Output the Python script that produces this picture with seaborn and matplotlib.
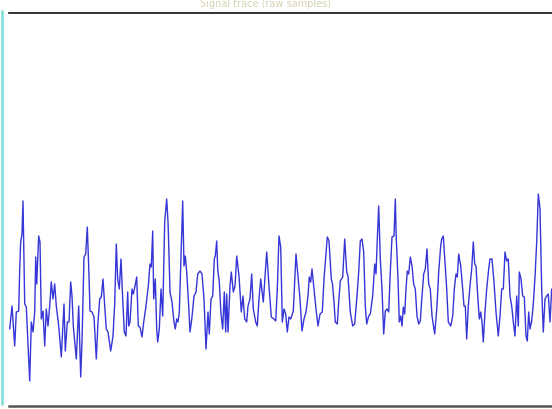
import matplotlib
matplotlib.use("Agg")
import matplotlib.pyplot as plt
from matplotlib.lines import Line2D
import seaborn as sns
import pandas as pd

# sample times and amplitudes
t = [9.7, 12, 14.7, 16.3, 18.7, 19.7, 20.7, 22, 23, 24.7, 26.3, 29.7, 31.3, 33, 34.7,
     35.7, 36.7, 38.7, 40, 41.3, 43, 44.7, 46.3, 48, 49.7, 51.3, 53, 54.7, 56.3, 58.7,
     61.3, 64, 65.3, 67.3, 69, 70.7, 72, 73.3, 76.3, 78.7, 80.7, 82, 84, 85.7, 87.3,
     88.7, 90, 92, 94, 96.3, 98, 99.7, 101.3, 103, 104.7, 106.3, 108, 110.7, 113, 114.7,
     116.3, 117.7, 119.3, 121, 122.7, 124.3, 126, 127.7, 128.7, 130, 132, 133.3, 135,
     136.7, 138.3, 140, 142, 143.7, 146, 148.3, 150, 151.3, 152.7, 153.7, 155.3, 156.7,
     157.7, 159.3, 161, 162.7, 164.7, 166.7, 168, 168.7, 170, 172, 174, 175.3, 176.7,
     178, 179.3, 181, 182.7, 184, 185.3, 186.7, 188.7, 190, 192, 194, 196, 197.7, 200,
     202, 204, 206, 208, 209.3, 211, 212.7, 214.3, 215.3, 216.7, 217.7, 219.3, 221,
     222.7, 224.3, 225.7, 226.7, 228, 230, 231.3, 233.3, 235, 236.7, 239, 241.3, 243,
     244.7, 246.7, 248, 250, 251.7, 253.3, 255.7, 257.3, 259, 260.7, 263.3, 266.7, 269,
     271.3, 274, 275.7, 277.3, 279, 280.7, 282.3, 284, 285.7, 287.3, 289, 290.7, 293.3,
     296, 298, 300, 302, 304, 306, 308, 309.3, 310.7, 312, 314, 316, 318, 320, 322.3,
     324, 327.3, 329, 331.3, 332.5, 334, 335.3, 337.3, 338.7, 340.3, 342.7, 344.7,
     346.7, 348, 350.3, 352.7, 354.7, 357, 358.7, 360.3, 362, 363.7, 365.3, 366.7,
     368.7, 370.3, 372.7, 374.7, 376, 377.7, 378.7, 380.3, 382, 383.7, 385.3, 387,
     388.7, 390.3, 392, 394, 395.3, 396.3, 398, 399.3, 400.7, 402, 403.3, 404.7, 406,
     407.3, 408.7, 410.3, 412, 413.7, 415.3, 417, 418.7, 420.3, 422, 423.7, 425.3, 427,
     428.7, 430.3, 432, 434.7, 437, 438.7, 440.7, 441.7, 443.3, 445, 446.7, 448.3,
     450.7, 452.7, 454.3, 456, 457.3, 458.7, 460.7, 462.7, 464, 465.3, 466.7, 468.3,
     470, 471.7, 473.3, 474.7, 476, 477.3, 479.3, 480.7, 482, 483.3, 485, 486.7, 488.7,
     490, 492, 494, 496, 498.3, 500, 501.7, 503.3, 505, 506.7, 508.3, 510, 511.7, 513.3,
     515, 516.7, 518.3, 519.3, 521, 522.7, 524.3, 526, 527.3, 528.7, 530, 531.7, 533.3,
     535, 536.7, 538.3, 540, 541.7, 543.3, 545, 546.7, 548.3, 550, 551.7]

amplitude = [70, 93, 53, 87, 88, 130, 157, 165, 198, 95, 92, 18, 77, 67, 87,
             142, 115, 163, 157, 80, 88, 53, 90, 73, 93, 117, 100, 115, 93, 73,
             42, 95, 48, 77, 77, 117, 103, 73, 40, 93, 22, 57, 142, 145, 172,
             132, 88, 87, 82, 40, 77, 100, 102, 120, 93, 70, 67, 48, 63, 95,
             155, 120, 110, 140, 100, 67, 63, 107, 73, 77, 110, 105, 113,
             122, 73, 72, 62, 77, 93, 113, 135, 132, 168, 100, 120, 70,
             57, 70, 110, 83, 177, 200, 177, 155, 107, 97, 77, 70, 80,
             77, 87, 143, 198, 133, 143, 127, 93, 67, 82, 103, 107, 125, 128,
             125, 100, 50, 87, 65, 100, 103, 140, 143, 158, 130, 117, 85,
             70, 107, 67, 105, 67, 113, 127, 107, 113, 143, 123, 87, 103,
             80, 77, 93, 100, 125, 90, 77, 73, 100, 120, 97, 147, 113,
             82, 80, 78, 110, 163, 152, 77, 90, 85, 67, 82, 80, 88,
             145, 123, 100, 68, 80, 87, 103, 122, 117, 130, 110, 90, 73, 85, 87,
             120, 162, 158, 120, 115, 97, 77, 75, 97, 118, 122, 160,
             127, 123, 87, 73, 75, 103, 127, 158, 160, 147, 93, 75,
             83, 85, 103, 135, 125, 170, 193, 140, 110, 65, 88, 90,
             87, 127, 162, 163, 200, 160, 120, 77, 83, 73, 92, 85, 110,
             128, 125, 142, 133, 115, 110, 83, 75, 78, 103, 125, 130, 150,
             115, 110, 83, 65, 93, 127, 153, 160, 163, 137, 110, 77,
             73, 83, 110, 125, 122, 145, 133, 110, 93, 93, 60, 93,
             113, 130, 157, 135, 133, 110, 80, 87, 77, 57, 87, 110, 130,
             140, 140, 117, 87, 63, 83, 110, 110, 147, 138, 140, 103, 93, 77,
             63, 103, 73, 127, 120, 103, 102, 63, 58, 87, 70, 78, 95,
             122, 157, 205, 190, 110, 67, 100, 103, 105, 77, 110]

df = pd.DataFrame({"t": t, "amplitude": amplitude})

sns.set_style("white")
fig = plt.figure(figsize=(5.52, 4.10), dpi=100)
ax = fig.add_axes([9 / 552, 3 / 410, 543 / 552, 393 / 410])

sns.lineplot(data=df, x="t", y="amplitude", sort=False, estimator=None,
             color="#3535d8", linewidth=1.0, ax=ax)

ax.set_xlim(9, 552)
ax.set_ylim(-7, 386)
ax.set_xticks([])
ax.set_yticks([])
ax.set_xlabel("")
ax.set_ylabel("")
ax.spines["left"].set_visible(False)
ax.spines["right"].set_visible(False)
ax.spines["top"].set_color("#111111")
ax.spines["top"].set_linewidth(1.2)
ax.spines["bottom"].set_color("#555555")
ax.spines["bottom"].set_linewidth(1.8)

# cyan edge line on the left of the frame
fig.add_artist(Line2D([2 / 552, 2 / 552], [5 / 410, 398 / 410],
                      transform=fig.transFigure, color="#86e0dc", linewidth=2))

fig.text(265 / 552, 406 / 410, "Signal trace (raw samples)", ha="center",
         va="center", fontsize=7, color="#d6d2b4")

fig.savefig("out.png", dpi=100)
